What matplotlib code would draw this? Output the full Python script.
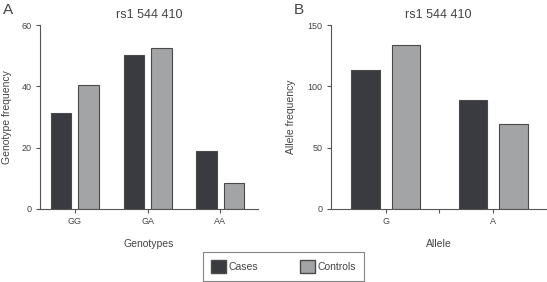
import numpy as np
import matplotlib
matplotlib.use("Agg")
import matplotlib.pyplot as plt
from matplotlib.patches import Patch

genotypes = ["GG", "GA", "AA"]
geno_cases = [31.2, 50.1, 19.0]
geno_controls = [40.4, 52.5, 8.6]

alleles = ["G", "A"]
allele_cases = [113, 89]
allele_controls = [133.7, 69.2]

title = "rs1 544 410"
CASE_COLOR = "#3a3b40"
CTRL_COLOR = "#a2a4a6"
EDGE = "#4a4a4a"
TEXT = "#444444"

plt.rcParams["font.family"] = ["Liberation Sans", "DejaVu Sans"]

fig = plt.figure(figsize=(5.47, 2.82), dpi=100)
axA = fig.add_axes([0.073, 0.259, 0.399, 0.652])
axB = fig.add_axes([0.605, 0.259, 0.393, 0.652])


def style(ax):
    for s in ("top", "right"):
        ax.spines[s].set_visible(False)
    for s in ("left", "bottom"):
        ax.spines[s].set_color("#555555")
        ax.spines[s].set_linewidth(0.8)
    ax.tick_params(axis="both", direction="out", length=3, width=0.8,
                   color="#555555", labelsize=6.5, labelcolor=TEXT, pad=3)


# panel A
x = np.arange(len(genotypes))
w = 0.28
axA.bar(x - 0.19, geno_cases, w, color=CASE_COLOR, edgecolor=EDGE, linewidth=0.8)
axA.bar(x + 0.19, geno_controls, w, color=CTRL_COLOR, edgecolor=EDGE, linewidth=0.8)
axA.set_xlim(-0.48, 2.52)
axA.set_ylim(0, 60)
axA.set_yticks([0, 20, 40, 60])
axA.set_xticks(x)
axA.set_xticklabels(genotypes)
axA.set_ylabel("Genotype frequency", fontsize=7.5, color=TEXT, labelpad=7)
axA.set_xlabel("Genotypes", fontsize=7.5, color=TEXT, labelpad=9)
axA.set_title(title, fontsize=9, color=TEXT, pad=5)
style(axA)

# panel B
xb = np.arange(len(alleles))
wb = 0.265
axB.bar(xb - 0.19, allele_cases, wb, color=CASE_COLOR, edgecolor=EDGE, linewidth=0.8)
axB.bar(xb + 0.19, allele_controls, wb, color=CTRL_COLOR, edgecolor=EDGE, linewidth=0.8)
axB.set_xlim(-0.51, 1.49)
axB.set_ylim(0, 150)
axB.set_yticks([0, 50, 100, 150])
axB.set_xticks([0, 0.5, 1])
axB.set_xticklabels(["G", "", "A"])
axB.set_ylabel("Allele frequency", fontsize=7.5, color=TEXT, labelpad=8)
axB.set_xlabel("Allele", fontsize=7.5, color=TEXT, labelpad=9)
axB.set_title(title, fontsize=9, color=TEXT, pad=5)
style(axB)

fig.text(0.005, 0.965, "A", fontsize=11, color=TEXT, va="center")
fig.text(0.537, 0.965, "B", fontsize=11, color=TEXT, va="center")

handles = [Patch(facecolor=CASE_COLOR, edgecolor=EDGE, label="Cases"),
           Patch(facecolor=CTRL_COLOR, edgecolor=EDGE, label="Controls")]
leg = fig.legend(handles=handles, loc="center", bbox_to_anchor=(0.518, 0.055),
                 ncol=2, fontsize=7.5, frameon=True, fancybox=False,
                 handlelength=1.5, handleheight=1.5, columnspacing=4.0,
                 borderpad=0.75, borderaxespad=0, handletextpad=0.2)
leg.get_frame().set_edgecolor("#666666")
leg.get_frame().set_linewidth(0.8)
for t in leg.get_texts():
    t.set_color(TEXT)

fig.savefig("out.png", dpi=100)
